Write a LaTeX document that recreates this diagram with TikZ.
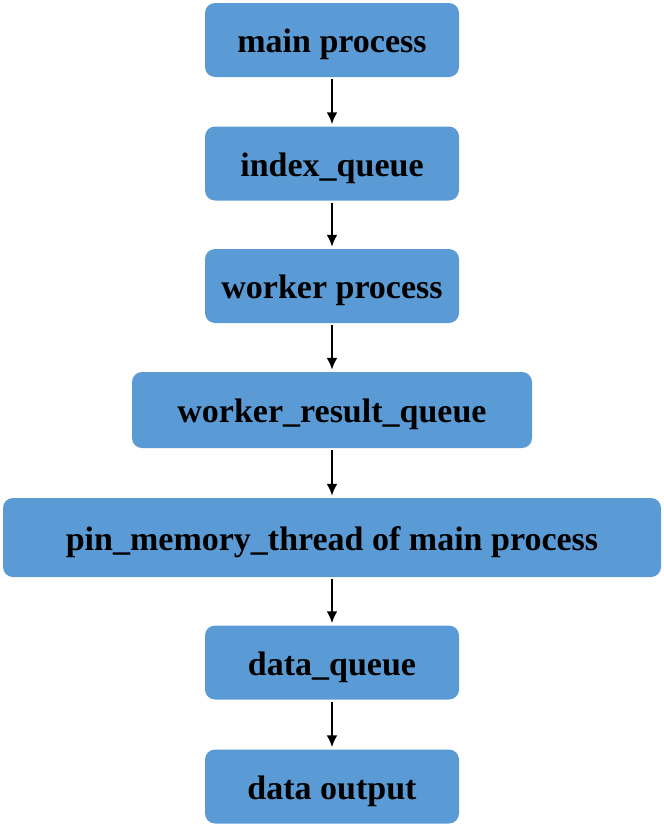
\documentclass[tikz,border=0pt]{standalone}
\usepackage{fontspec}
\setmainfont{Liberation Serif}
\usetikzlibrary{arrows.meta}
\definecolor{azulcaja}{HTML}{5B9BD5}

\begin{document}
\begin{tikzpicture}[x=1pt,y=-1pt,
  caja/.style={fill=azulcaja, rounded corners=10pt, inner sep=0pt,
    minimum width=254pt, minimum height=74pt,
    text height=25pt, text depth=0pt,
    font=\fontsize{34}{40}\selectfont\bfseries},
  flecha/.style={-{Latex[length=12pt,width=11pt]}, line width=2.8pt,
    shorten <=2pt, shorten >=2pt}]
  \useasboundingbox (0,0) rectangle (664,830);

  % Cajas
  \node[caja] (main)   at (332,40)  {main process};
  \node[caja] (index)  at (332,163.5) {index\_queue};
  \node[caja] (worker) at (332,286) {worker process};
  \node[caja, minimum width=400pt, minimum height=76pt] (result) at (332,410) {worker\_result\_queue};
  \node[caja, minimum width=658pt, minimum height=79pt] (pin) at (332,537.5) {pin\_memory\_thread of main process};
  \node[caja] (dqueue) at (332,662.5) {data\_queue};
  \node[caja] (output) at (332,786.5) {data output};

  % Flechas
  \draw[flecha] (main) -- (index);
  \draw[flecha] (index) -- (worker);
  \draw[flecha] (worker) -- (result);
  \draw[flecha] (result) -- (pin);
  \draw[flecha] (pin) -- (dqueue);
  \draw[flecha] (dqueue) -- (output);
\end{tikzpicture}
\end{document}
